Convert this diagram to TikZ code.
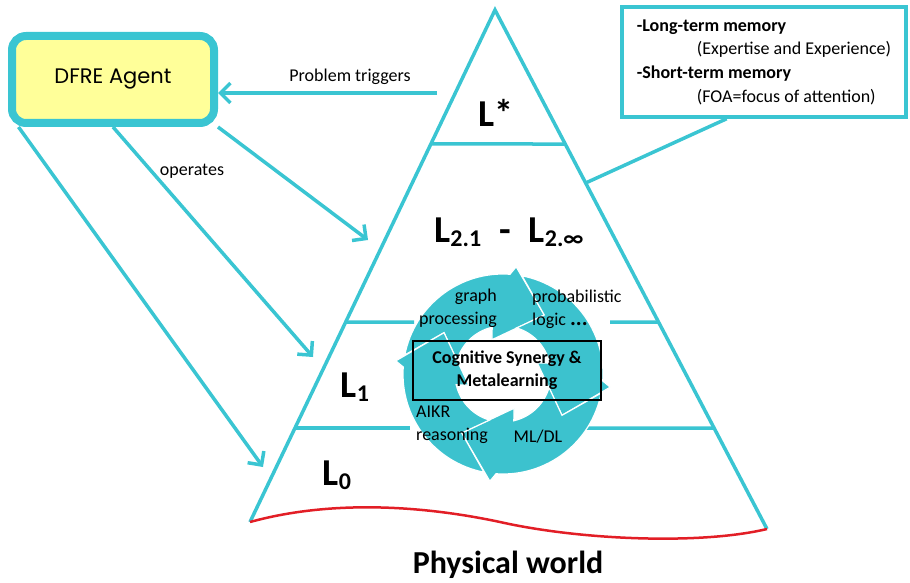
\documentclass[tikz,border=0pt]{standalone}
\usepackage{fontspec}
\setmainfont{Carlito}
\newfontfamily\agentfont{Poppins}
\usetikzlibrary{arrows.meta,calc}
\definecolor{tcyan}{RGB}{58,197,210}
\definecolor{tfill}{RGB}{60,194,206}
\definecolor{tyellow}{RGB}{255,255,153}
\definecolor{tred}{RGB}{226,30,38}
\begin{document}
\begin{tikzpicture}[x=1pt,y=1pt,
  every node/.style={inner sep=0pt,font=\fontsize{18}{23}\selectfont},
  tline/.style={draw=tcyan,line width=3.5pt},
  tarrow/.style={tline,-{Straight Barb[length=10pt,width=20pt]}},
  level/.style={font=\fontsize{38}{40}\selectfont\bfseries},
  ]
  \newcommand{\levelsub}[1]{\raisebox{-4pt}{\fontsize{24}{24}\selectfont #1}}
  \useasboundingbox (0,0) rectangle (910,-583);
  \coordinate (apex) at (495,-10);
  \coordinate (bl) at (250,-522);
  \coordinate (br) at (767,-529);
  \draw[tline,line join=miter] (bl) -- (apex) -- (br);
  \draw[tred,line width=2.5pt] (bl) .. controls (330,-500) and (420,-505) .. (500,-522)
    .. controls (580,-540) and (700,-545) .. (br);
  \draw[tline] ($(apex)!0.2617!(bl)$) -- ($(apex)!0.2582!(br)$);
  \foreach \fl/\fr/\yy/\xa/\xb in {0.6094/0.6012/322/414/610, 0.8164/0.8054/428/410/583}{
    \draw[tline] ($(apex)!\fl!(bl)$) -- (\xa,-\yy);
    \draw[tline] (\xb,-\yy) -- ($(apex)!\fr!(br)$);
  }
  \begin{scope}[shift={(503,-374)}]
    \foreach \a in {-2,-92,-182,-272}
      \filldraw[fill=tfill,draw=white,line width=1.2pt,line join=miter]
        ({\a+171}:100) arc[start angle=\a+171,end angle=\a+88,radius=100]
        -- ({\a+85}:108) -- ({\a+57}:72) -- ({\a+110}:36) -- ({\a+105}:48)
        arc[start angle=\a+105,end angle=\a+165.6,radius=48] -- ({\a+147}:72) -- cycle;
  \end{scope}
  \node[draw=black,line width=2.5pt,minimum width=188pt,minimum height=59pt,align=center,
    font=\fontsize{18}{23}\selectfont\bfseries] (cog) at (507,-370.5) {Cognitive Synergy \&\\Metalearning};
  \node[align=right,anchor=east] (graph) at (497,-308) {graph\\processing};
  \node[align=left,anchor=west] (prob) at (532,-309) {probabilistic\\logic {\bfseries\fontsize{22}{23}\selectfont...}};
  \node[align=left,anchor=west] (aikr) at (416,-425) {AIKR\\reasoning};
  \node (mldl) at (538,-437) {ML/DL};
  \node[draw=tcyan,line width=8pt,fill=tyellow,rounded corners=14pt,minimum width=202pt,
    minimum height=87pt,font=\agentfont\fontsize{21}{24}\selectfont] (agent) at (113,-79.5) {\raisebox{5pt}{DFRE Agent}};
  \node[draw=tcyan,line width=3.5pt,minimum width=284pt,minimum height=110pt,align=left,
    font=\fontsize{18}{23.7}\selectfont] (mem) at (764,-62)
    {\textbf{-Long-term memory}\\\hspace*{60pt}(Expertise and Experience)\\
     \textbf{-Short-term memory}\\\hspace*{60pt}(FOA=focus of attention)};
  \coordinate (ptail) at (437,-93);
  \coordinate (tipa) at (368,-240);
  \coordinate (tipb) at (313,-357);
  \coordinate (tipc) at (263,-467);
  \coordinate (memend) at ($(apex)!0.3333!(br)$);
  \draw[tarrow] (ptail) -- (agent.east |- ptail);
  \draw[tarrow] (agent.south east) -- (tipa);
  \draw[tarrow] (agent.south) -- (tipb);
  \draw[tarrow] ($(agent.south west)!0.05!(agent.south east)$) -- (tipc);
  \draw[tline] ($(mem.south west)!0.37!(mem.south east)$) -- (memend);
  \node (trig) at (350,-77) {Problem triggers};
  \node (oper) at (192,-171) {operates};
  \node[level] (lstar) at (496,-113) {L*};
  \node[level] (ltwo) at (509,-232) {L\levelsub{2.1}\hspace{18pt}-\hspace{18pt}L\levelsub{2.∞}};
  \node[level] (lone) at (355,-387) {L\levelsub{1}};
  \node[level] (lzero) at (337,-475) {L\levelsub{0}};
  \node[font=\fontsize{32}{34}\selectfont\bfseries] (world) at (508,-565) {Physical world};
\end{tikzpicture}
\end{document}
